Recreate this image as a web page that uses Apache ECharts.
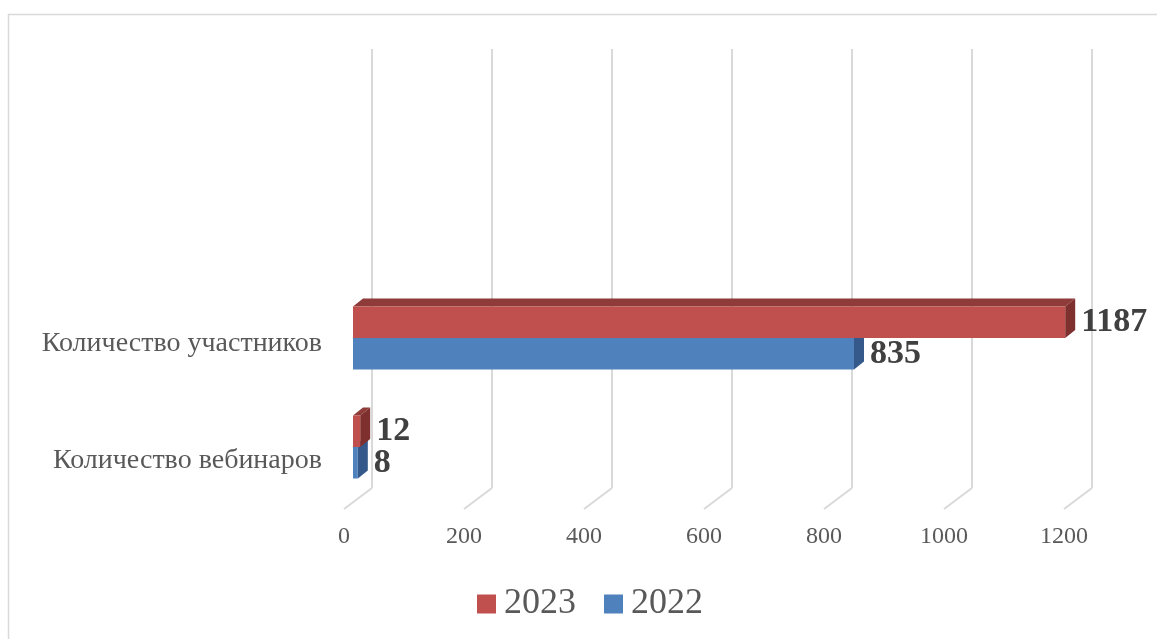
<!DOCTYPE html>
<html>
<head>
<meta charset="utf-8">
<script src="https://cdn.jsdelivr.net/npm/echarts@6/dist/echarts.min.js"></script>
<style>html,body{margin:0;padding:0;background:#fff;}#c{width:1157px;height:639px;}</style>
</head>
<body>
<div id="c"></div>
<script>
const categories = ['Количество вебинаров', 'Количество участников'];
const values2022 = [8, 835];
const values2023 = [12, 1187];
const xTicks = [0, 200, 400, 600, 800, 1000, 1200];

const FONT = "'Liberation Serif','Times New Roman',serif";
const DX = 10, DY = 8, BAR_H = 31.5;

function shade(front, top, side, upper) {
  return function (params, api) {
    const cat = api.value(1);
    const val = api.value(0);
    const p0 = api.coord([0, cat]);
    const p1 = api.coord([val, cat]);
    const x0 = p0[0], x1 = p1[0];
    const yT = upper ? p0[1] - BAR_H : p0[1];
    const yB = upper ? p0[1] : p0[1] + BAR_H;
    return {
      type: 'group',
      children: [
        { type: 'polygon', shape: { points: [[x0, yT], [x1, yT], [x1 + DX, yT - DY], [x0 + DX, yT - DY]] }, style: { fill: top } },
        { type: 'polygon', shape: { points: [[x1, yT], [x1 + DX, yT - DY], [x1 + DX, yB - DY], [x1, yB]] }, style: { fill: side } },
        { type: 'rect', shape: { x: x0, y: yT, width: x1 - x0, height: yB - yT }, style: { fill: front } },
        { type: 'text', style: { text: String(val), x: x1 + DX + 6, y: (yT + yB) / 2, verticalAlign: 'middle', align: 'left', font: 'bold 34px ' + FONT, fill: '#404040' } }
      ]
    };
  };
}

const chart = echarts.init(document.getElementById('c'), null, { renderer: 'canvas' });
chart.setOption({
  animation: false,
  backgroundColor: '#fff',
  graphic: [{ type: 'rect', shape: { x: 8.5, y: 14.5, width: 1170, height: 660 }, style: { fill: 'none', stroke: '#d9d9d9', lineWidth: 1.5 }, silent: true, z: -10 }],
  legend: {
    data: ['2023', '2022'],
    left: 477, top: 586, padding: 0,
    icon: 'rect', itemWidth: 19, itemHeight: 19, itemGap: 28,
    textStyle: { fontFamily: FONT, fontSize: 36, color: '#595959', padding: [0, 0, 0, 3] }
  },
  grid: [
    { left: 372, width: 720, top: 49, height: 439 },
    { left: 344, width: 720, top: 508, height: 1 },
    { left: 353, width: 720, top: 283.5, height: 218 },
    { left: 353, width: 720, top: 285.5, height: 234 }
  ],
  xAxis: [
    { gridIndex: 0, type: 'value', min: 0, max: 1200, interval: 200, axisLabel: { show: false }, axisLine: { show: false }, axisTick: { show: false }, splitLine: { show: true, lineStyle: { color: '#d9d9d9', width: 2 } } },
    { gridIndex: 1, type: 'value', min: 0, max: 1200, interval: 200, axisLine: { show: false }, axisTick: { show: false }, splitLine: { show: false }, axisLabel: { margin: 16, fontFamily: FONT, fontSize: 24, color: '#595959', formatter: v => String(v) } },
    { gridIndex: 2, type: 'value', min: 0, max: 1200, show: false },
    { gridIndex: 3, type: 'value', min: 0, max: 1200, show: false }
  ],
  yAxis: [
    { gridIndex: 0, type: 'value', min: 0, max: 1, show: false },
    { gridIndex: 1, type: 'value', min: 0, max: 1, show: false },
    { gridIndex: 2, type: 'category', data: categories, show: false },
    { gridIndex: 3, type: 'category', data: categories, axisLine: { show: false }, axisTick: { show: false }, axisLabel: { margin: 31, fontFamily: FONT, fontSize: 28, color: '#595959' } }
  ],
  series: [
    {
      type: 'custom', name: 'floor', xAxisIndex: 0, yAxisIndex: 0, silent: true,
      data: xTicks.map(v => [v, 0]),
      renderItem: function (params, api) {
        const p = api.coord([api.value(0), 0]);
        return { type: 'line', shape: { x1: p[0], y1: p[1], x2: p[0] - 28, y2: p[1] + 21 }, style: { stroke: '#d9d9d9', lineWidth: 2 } };
      }
    },
    {
      type: 'custom', name: '2022', xAxisIndex: 2, yAxisIndex: 2,
      itemStyle: { color: '#4F81BD' },
      data: values2022.map((v, i) => [v, i]),
      encode: { x: 0, y: 1 },
      renderItem: shade('#4F81BD', '#3A6397', '#34598A', false)
    },
    {
      type: 'custom', name: '2023', xAxisIndex: 2, yAxisIndex: 2,
      itemStyle: { color: '#C0504D' },
      data: values2023.map((v, i) => [v, i]),
      encode: { x: 0, y: 1 },
      renderItem: shade('#C0504D', '#8E3B39', '#7E302E', true)
    }
  ]
});
</script>
</body>
</html>
